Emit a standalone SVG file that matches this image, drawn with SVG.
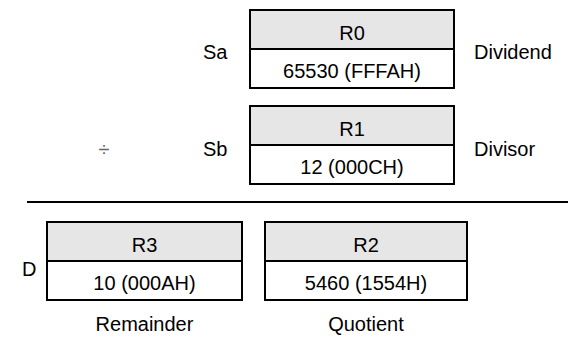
<svg xmlns="http://www.w3.org/2000/svg" width="572" height="350" viewBox="0 0 572 350">
  <style>
    text { font-family: "Liberation Sans", Arial, sans-serif; font-size: 20px; fill: #000; }
    .c { text-anchor: middle; }
    .op { fill: #666; }
    .hdr { fill: #e6e6e6; stroke: none; }
    .box { fill: none; stroke: #000; stroke-width: 2; }
    .sep { stroke: #000; stroke-width: 2; }
  </style>
  <rect width="572" height="350" fill="#fff"/>

  <!-- dividend register -->
  <g id="r0">
    <rect class="hdr" x="250" y="10" width="204" height="39"/>
    <rect class="box" x="250" y="10" width="204" height="78"/>
    <line class="sep" x1="250" y1="49" x2="454" y2="49"/>
    <text class="c" x="352" y="40">R0</text>
    <text class="c" x="352" y="78">65530 (FFFAH)</text>
  </g>
  <text x="203" y="59">Sa</text>
  <text x="474" y="59">Dividend</text>

  <!-- divisor register -->
  <g id="r1">
    <rect class="hdr" x="250" y="106" width="204" height="39"/>
    <rect class="box" x="250" y="106" width="204" height="78"/>
    <line class="sep" x1="250" y1="145" x2="454" y2="145"/>
    <text class="c" x="352" y="136">R1</text>
    <text class="c" x="352" y="174">12 (000CH)</text>
  </g>
  <text class="c op" x="104" y="156">÷</text>
  <text x="203" y="156">Sb</text>
  <text x="474" y="156">Divisor</text>

  <!-- result rule -->
  <g id="connectors">
    <line class="sep" x1="27" y1="202" x2="568" y2="202"/>
  </g>

  <!-- remainder register -->
  <g id="r3">
    <rect class="hdr" x="47" y="222" width="195" height="39"/>
    <rect class="box" x="47" y="222" width="195" height="78"/>
    <line class="sep" x1="47" y1="261" x2="242" y2="261"/>
    <text class="c" x="144.5" y="252">R3</text>
    <text class="c" x="144.5" y="290">10 (000AH)</text>
  </g>
  <text x="22" y="276">D</text>
  <text class="c" x="144.5" y="331">Remainder</text>

  <!-- quotient register -->
  <g id="r2">
    <rect class="hdr" x="265" y="222" width="202" height="39"/>
    <rect class="box" x="265" y="222" width="202" height="78"/>
    <line class="sep" x1="265" y1="261" x2="467" y2="261"/>
    <text class="c" x="366" y="252">R2</text>
    <text class="c" x="366" y="290">5460 (1554H)</text>
  </g>
  <text class="c" x="366" y="331">Quotient</text>
</svg>
